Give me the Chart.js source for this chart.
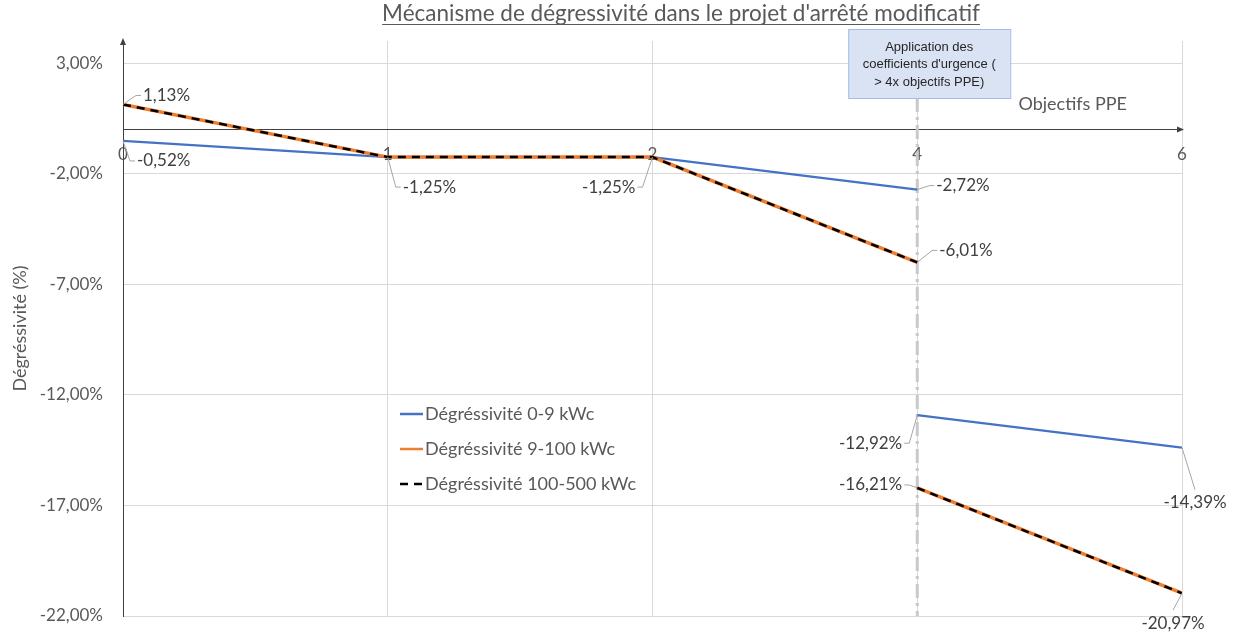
<!DOCTYPE html>
<html lang="fr">
<head>
<meta charset="utf-8">
<title>Mécanisme de dégressivité</title>
<script src="https://cdn.jsdelivr.net/npm/chart.js@4.4.1/dist/chart.umd.min.js"></script>
<style>
    html, body { margin: 0; padding: 0; background: #ffffff; }
    #degressiviteChart { display: block; }
</style>
</head>
<body>
<canvas id="degressiviteChart" width="1236" height="634"></canvas>
<script>
// Données
const objectifsPPE = ['0', '1', '2', '4', '6'];
const indexUrgence = 3; // colonne "4" : application des coefficients d'urgence
const ticksY = [-22, -17, -12, -7, -2, 3];

const degr0_9Avant = [-0.52, -1.25, -1.25, -2.72];
const degr0_9Apres = [-12.92, -14.39];
const degr9_100Avant = [1.13, -1.25, -1.25, -6.01];
const degr9_100Apres = [-16.21, -20.97];
const degr100_500Avant = [1.13, -1.25, -1.25, -6.01];
const degr100_500Apres = [-16.21, -20.97];

const libelles = ['Dégréssivité 0-9 kWc', 'Dégréssivité 9-100 kWc', 'Dégréssivité 100-500 kWc'];
const titre = "Mécanisme de dégressivité dans le projet d'arrêté modificatif";
const texteEncadre = ['Application des', "coefficients d'urgence (", '> 4x objectifs PPE)'];

const POLICE = 'Lato, "Open Sans", sans-serif';
const GRIS_TEXTE = '#595959';

// Placement des étiquettes : [dataset, point, dx, dy, alignement]
const placementEtiquettes = [
    [0, 0, 14, 20, 'left'],
    [1, 0, 20, -9, 'left'],
    [1, 1, 15, 30, 'left'],
    [1, 2, -17, 30, 'right'],
    [0, 3, 19, -4, 'left'],
    [1, 3, 22, -12, 'left'],
    [0, 5, -15, 28, 'right'],
    [1, 5, -15, -3, 'right'],
    [0, 6, 13, 55, 'center'],
    [1, 6, -9, 30, 'center']
];

function formatPct(v) {
    return v.toFixed(2).replace('.', ',') + '%';
}

// Points avant / après la rupture (null = coupure de la courbe)
function construirePoints(avant, apres) {
    const pts = avant.map((v, i) => ({ x: i, y: v }));
    pts.push({ x: indexUrgence, y: null });
    apres.forEach((v, i) => pts.push({ x: indexUrgence + i, y: v }));
    return pts;
}

// Titre souligné
const titrePlugin = {
    id: 'titreSouligne',
    afterDraw(chart) {
        const ctx = chart.ctx;
        ctx.save();
        ctx.font = '22.5px ' + POLICE;
        ctx.fillStyle = GRIS_TEXTE;
        ctx.textAlign = 'center';
        ctx.textBaseline = 'alphabetic';
        ctx.fillText(titre, 681, 21);
        const w = ctx.measureText(titre).width;
        ctx.fillRect(681 - w / 2, 24, w, 1);
        ctx.restore();
    }
};

// Ligne verticale + encadré "coefficients d'urgence"
const urgencePlugin = {
    id: 'urgence',
    beforeDatasetsDraw(chart) {
        const { ctx, chartArea, scales } = chart;
        const x = scales.x.getPixelForValue(indexUrgence);
        ctx.save();
        ctx.strokeStyle = '#c9c9c9';
        ctx.lineWidth = 3;
        ctx.setLineDash([14, 5, 3, 5]);
        ctx.beginPath();
        ctx.moveTo(x, 98);
        ctx.lineTo(x, chartArea.bottom);
        ctx.stroke();
        ctx.restore();
    },
    afterDraw(chart) {
        const ctx = chart.ctx;
        const x = chart.scales.x.getPixelForValue(indexUrgence);
        const gauche = x - 69;
        ctx.save();
        ctx.fillStyle = '#dae3f3';
        ctx.strokeStyle = '#a4bde3';
        ctx.lineWidth = 1;
        ctx.fillRect(gauche, 29, 162, 69);
        ctx.strokeRect(gauche + 0.5, 29.5, 162, 69);
        ctx.fillStyle = '#262626';
        ctx.font = '13px "Liberation Sans", Arial, sans-serif';
        ctx.textAlign = 'center';
        ctx.textBaseline = 'middle';
        texteEncadre.forEach((ligne, i) => {
            ctx.fillText(ligne, gauche + 81, 47 + i * 17.5);
        });
        ctx.restore();
    }
};

// Flèches des axes + titre de l'axe horizontal
const axesPlugin = {
    id: 'axesFleches',
    afterDraw(chart) {
        const { ctx, chartArea, scales } = chart;
        const y0 = scales.y.getPixelForValue(0);
        ctx.save();
        ctx.fillStyle = '#404040';
        ctx.beginPath();
        ctx.moveTo(chartArea.left, chartArea.top - 3);
        ctx.lineTo(chartArea.left - 3, chartArea.top + 4);
        ctx.lineTo(chartArea.left + 3, chartArea.top + 4);
        ctx.closePath();
        ctx.fill();
        ctx.beginPath();
        ctx.moveTo(chartArea.right + 2, y0);
        ctx.lineTo(chartArea.right - 5, y0 - 3);
        ctx.lineTo(chartArea.right - 5, y0 + 3);
        ctx.closePath();
        ctx.fill();

        ctx.fillStyle = GRIS_TEXTE;
        ctx.font = '18px ' + POLICE;
        ctx.textAlign = 'right';
        ctx.textBaseline = 'middle';
        ctx.fillText('Objectifs PPE', chartArea.right - 55, y0 - 25);
        ctx.restore();
    }
};

// Étiquettes de données avec traits de rappel
const etiquettesPlugin = {
    id: 'etiquettes',
    afterDatasetsDraw(chart) {
        const ctx = chart.ctx;
        ctx.save();
        ctx.font = '17px ' + POLICE;
        ctx.textBaseline = 'middle';
        placementEtiquettes.forEach(([ds, idx, dx, dy, align]) => {
            const pt = chart.getDatasetMeta(ds).data[idx];
            const valeur = chart.data.datasets[ds].data[idx].y;
            const tx = pt.x + dx;
            const ty = pt.y + dy;

            ctx.strokeStyle = '#a6a6a6';
            ctx.lineWidth = 1;
            ctx.beginPath();
            ctx.moveTo(pt.x, pt.y);
            if (align === 'left') {
                ctx.lineTo(tx - 7, ty);
                ctx.lineTo(tx - 2, ty);
            } else if (align === 'right') {
                ctx.lineTo(tx + 7, ty);
                ctx.lineTo(tx + 2, ty);
            } else {
                ctx.lineTo(tx, ty - 13);
            }
            ctx.stroke();

            ctx.fillStyle = '#404040';
            ctx.textAlign = align;
            ctx.fillText(formatPct(valeur), tx, ty);
        });
        ctx.restore();
    }
};

// Légende dans la zone du graphique
const legendePlugin = {
    id: 'legendeInterne',
    afterDraw(chart) {
        const ctx = chart.ctx;
        const x = chart.chartArea.left + 277;
        ctx.save();
        ctx.font = '18px ' + POLICE;
        ctx.textAlign = 'left';
        ctx.textBaseline = 'middle';
        chart.data.datasets.forEach((d, i) => {
            const y = 414 + i * 35;
            ctx.strokeStyle = d.borderColor;
            ctx.lineWidth = 2.5;
            ctx.setLineDash(d.borderDash || []);
            ctx.beginPath();
            ctx.moveTo(x, y);
            ctx.lineTo(x + 23, y);
            ctx.stroke();
            ctx.setLineDash([]);
            ctx.fillStyle = GRIS_TEXTE;
            ctx.fillText(d.label, x + 25, y);
        });
        ctx.restore();
    }
};

const ctx = document.getElementById('degressiviteChart').getContext('2d');

const degressiviteChart = new Chart(ctx, {
    type: 'line',
    data: {
        datasets: [
            {
                label: libelles[0],
                data: construirePoints(degr0_9Avant, degr0_9Apres),
                borderColor: '#4472c4',
                borderWidth: 2.25,
                order: 3
            },
            {
                label: libelles[1],
                data: construirePoints(degr9_100Avant, degr9_100Apres),
                borderColor: '#ed7d31',
                borderWidth: 3.5,
                order: 2
            },
            {
                label: libelles[2],
                data: construirePoints(degr100_500Avant, degr100_500Apres),
                borderColor: '#000000',
                borderWidth: 2.5,
                borderDash: [8, 6],
                order: 1
            }
        ]
    },
    options: {
        responsive: false,
        animation: false,
        spanGaps: false,
        elements: {
            point: { radius: 0, hoverRadius: 0 },
            line: { tension: 0, fill: false }
        },
        layout: {
            padding: { top: 41, right: 54, bottom: 18, left: 0 }
        },
        plugins: {
            legend: { display: false },
            title: { display: false },
            tooltip: { enabled: false }
        },
        scales: {
            x: {
                type: 'linear',
                min: 0,
                max: objectifsPPE.length - 1,
                position: { y: 0 },
                afterBuildTicks: scale => {
                    scale.ticks = objectifsPPE.map((_, i) => ({ value: i }));
                },
                afterFit: scale => {
                    scale.height = 0;
                },
                grid: {
                    color: c => (c.tick && c.tick.value === 0) ? 'rgba(0,0,0,0)' : '#d9d9d9',
                    drawTicks: false
                },
                border: { color: '#404040', width: 1 },
                ticks: {
                    padding: 15,
                    maxRotation: 0,
                    autoSkip: false,
                    color: GRIS_TEXTE,
                    font: { family: POLICE, size: 17 },
                    callback: v => objectifsPPE[v]
                }
            },
            y: {
                min: -22,
                max: 4,
                afterBuildTicks: scale => {
                    scale.ticks = ticksY.map(v => ({ value: v }));
                },
                afterFit: scale => {
                    scale.width = 123;
                    // pas de marge verticale supplémentaire pour les libellés
                    scale.paddingTop = 0;
                    scale.paddingBottom = 0;
                },
                grid: { color: '#d9d9d9', drawTicks: false },
                border: { color: '#404040', width: 1 },
                ticks: {
                    padding: 20,
                    color: GRIS_TEXTE,
                    font: { family: POLICE, size: 17 },
                    callback: v => formatPct(v)
                },
                title: {
                    display: true,
                    text: 'Dégréssivité (%)',
                    color: GRIS_TEXTE,
                    font: { family: POLICE, size: 18 },
                    padding: { top: 9, bottom: 0 }
                }
            }
        }
    },
    plugins: [urgencePlugin, etiquettesPlugin, legendePlugin, axesPlugin, titrePlugin]
});
</script>
</body>
</html>
